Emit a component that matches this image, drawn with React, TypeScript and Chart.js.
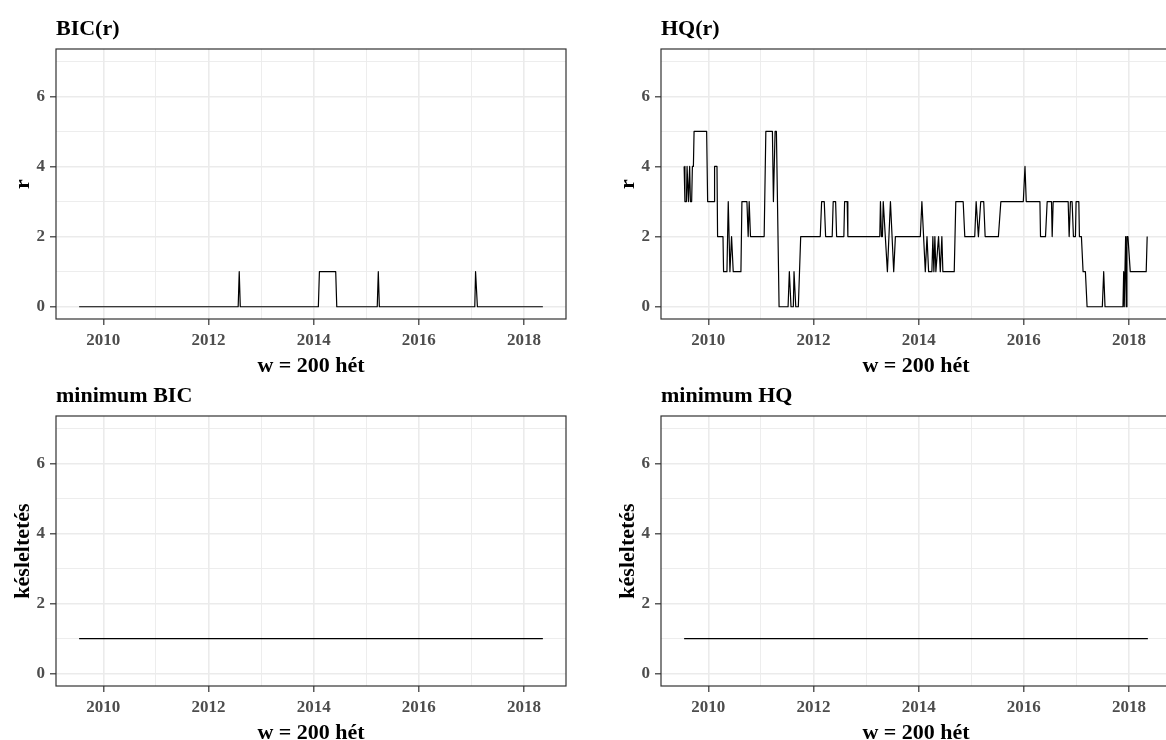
import React, { useEffect, useRef } from "react";
import { Chart, registerables } from "chart.js";

Chart.register(...registerables);

const FONT = '"Liberation Serif", "Times New Roman", serif';

// ---- axes ----
const X_MIN = 2009.1;
const X_MAX = 2018.8;
const Y_MIN = -0.35;
const Y_MAX = 7.35;
const xMajorTicks = [2010, 2012, 2014, 2016, 2018];
const xMinorTicks = [2011, 2013, 2015, 2017];
const yMajorTicks = [0, 2, 4, 6];
const yMinorTicks = [1, 3, 5, 7];
const xAxisTitle = "w = 200 hét";

// ---- BIC(r) ----
const bicDates = [
  2009.54, 2012.565, 2012.585, 2012.605, 2014.09, 2014.11, 2014.42, 2014.44,
  2015.21, 2015.23, 2015.25, 2017.065, 2017.08, 2017.115, 2018.36,
];
const bicR = [0, 0, 1, 0, 0, 1, 1, 0, 0, 1, 0, 0, 1, 0, 0];

// ---- HQ(r) ----
const hqDates = [
  2009.54, 2009.555, 2009.583, 2009.596, 2009.621, 2009.645, 2009.659, 2009.683, 2009.697, 2009.716,
  2009.729, 2009.968, 2009.987, 2010.114, 2010.119, 2010.165, 2010.176, 2010.279, 2010.29, 2010.354,
  2010.379, 2010.411, 2010.442, 2010.474, 2010.62, 2010.639, 2010.734, 2010.758, 2010.777, 2010.802,
  2011.062, 2011.094, 2011.219, 2011.238, 2011.27, 2011.295, 2011.346, 2011.517, 2011.541, 2011.573,
  2011.617, 2011.63, 2011.663, 2011.712, 2011.757, 2012.129, 2012.155, 2012.205, 2012.231, 2012.356,
  2012.375, 2012.421, 2012.44, 2012.578, 2012.592, 2012.641, 2012.654, 2013.261, 2013.274, 2013.293,
  2013.312, 2013.327, 2013.336, 2013.406, 2013.464, 2013.526, 2013.558, 2014.032, 2014.062, 2014.127,
  2014.159, 2014.19, 2014.252, 2014.271, 2014.29, 2014.309, 2014.328, 2014.379, 2014.412, 2014.442,
  2014.461, 2014.677, 2014.707, 2014.847, 2014.878, 2015.067, 2015.094, 2015.137, 2015.181, 2015.238,
  2015.265, 2015.517, 2015.564, 2015.991, 2016.023, 2016.047, 2016.307, 2016.318, 2016.413, 2016.445,
  2016.527, 2016.54, 2016.559, 2016.844, 2016.863, 2016.887, 2016.919, 2016.944, 2016.982, 2016.995,
  2017.047, 2017.058, 2017.096, 2017.128, 2017.172, 2017.204, 2017.494, 2017.52, 2017.545, 2017.886,
  2017.9, 2017.911, 2017.924, 2017.937, 2017.949, 2017.962, 2017.981, 2018.025, 2018.328, 2018.347,
];
const hqR = [
  4, 3, 3, 4, 3, 4, 3, 3, 4, 4,
  5, 5, 3, 3, 4, 4, 2, 2, 1, 1,
  3, 1, 2, 1, 1, 3, 3, 2, 3, 2,
  2, 5, 5, 3, 5, 5, 0, 0, 1, 0,
  0, 1, 0, 0, 2, 2, 3, 3, 2, 2,
  3, 3, 2, 2, 3, 3, 2, 2, 3, 2,
  2, 3, 3, 1, 3, 1, 2, 2, 3, 1,
  2, 1, 1, 2, 1, 2, 1, 2, 1, 2,
  1, 1, 3, 3, 2, 2, 3, 2, 3, 3,
  2, 2, 3, 3, 4, 3, 3, 2, 2, 3,
  3, 2, 3, 3, 2, 3, 3, 2, 2, 3,
  3, 2, 2, 1, 1, 0, 0, 1, 0, 0,
  1, 0, 0, 2, 0, 2, 2, 1, 1, 2,
];

// ---- minimum BIC / minimum HQ (lag) ----
const minDates = [2009.54, 2018.36];
const minBicLag = [1, 1];
const minHqLag = [1, 1];

type PanelProps = {
  left: number;
  top: number;
  width: number;
  height: number;
  title: string;
  yTitle: string;
  xs: number[];
  ys: number[];
};

const AREA_LEFT = 56;
const AREA_RIGHT = 566;
const AREA_TOP = 49;
const AREA_BOTTOM = 319;

function Panel({ left, top, width, height, title, yTitle, xs, ys }: PanelProps) {
  const ref = useRef<HTMLCanvasElement>(null);
  useEffect(() => {
    const canvas = ref.current;
    if (!canvas) return;
    const decor = {
      id: "decor",
      afterDatasetsDraw(chart: any) {
        const { ctx, chartArea: a } = chart;
        ctx.save();
        ctx.strokeStyle = "#333333";
        ctx.lineWidth = 1.2;
        ctx.strokeRect(a.left, a.top, a.right - a.left, a.bottom - a.top);
        ctx.fillStyle = "#000000";
        ctx.font = `bold 22px ${FONT}`;
        ctx.textBaseline = "alphabetic";
        ctx.textAlign = "left";
        ctx.fillText(title, a.left, 35);
        ctx.textAlign = "center";
        ctx.fillText(xAxisTitle, (a.left + a.right) / 2, 372);
        ctx.translate(29, (a.top + a.bottom) / 2);
        ctx.rotate(-Math.PI / 2);
        ctx.fillText(yTitle, 0, 0);
        ctx.restore();
      },
    };
    const gridColor = "#EBEBEB";
    const chart = new Chart(canvas, {
      type: "line",
      data: {
        datasets: [
          {
            data: xs.map((x, i) => ({ x, y: ys[i] })),
            borderColor: "#000000",
            borderWidth: 1.2,
            pointRadius: 0,
            tension: 0,
            fill: false,
            borderJoinStyle: "round",
          },
        ],
      },
      options: {
        responsive: false,
        animation: false,
        devicePixelRatio: 1,
        events: [],
        layout: { padding: { left: 0, top: AREA_TOP, right: width - AREA_RIGHT, bottom: 0 } },
        plugins: { legend: { display: false }, tooltip: { enabled: false }, title: { display: false } },
        scales: {
          x: {
            type: "linear",
            min: X_MIN,
            max: X_MAX,
            afterBuildTicks: (s: any) => {
              s.ticks = [...xMajorTicks, ...xMinorTicks].sort((a, b) => a - b).map((v) => ({ value: v }));
            },
            afterFit: (s: any) => {
              s.height = height - AREA_BOTTOM;
            },
            ticks: {
              autoSkip: false,
              maxRotation: 0,
              minRotation: 0,
              padding: 5,
              color: "#4D4D4D",
              font: { family: FONT, size: 17, weight: "bold" },
              callback: (v: any) => (xMajorTicks.includes(Number(v)) ? String(v) : ""),
            },
            grid: {
              color: gridColor,
              lineWidth: (c: any) => (xMajorTicks.includes(c.tick?.value) ? 1.6 : 0.9),
              tickLength: 6,
              tickWidth: 1.2,
              tickColor: (c: any) => (xMajorTicks.includes(c.tick?.value) ? "#333333" : "rgba(0,0,0,0)"),
            },
            border: { display: false },
          },
          y: {
            type: "linear",
            min: Y_MIN,
            max: Y_MAX,
            afterBuildTicks: (s: any) => {
              s.ticks = [...yMajorTicks, ...yMinorTicks].sort((a, b) => a - b).map((v) => ({ value: v }));
            },
            afterFit: (s: any) => {
              s.width = AREA_LEFT;
            },
            ticks: {
              autoSkip: false,
              padding: 5,
              color: "#4D4D4D",
              font: { family: FONT, size: 17, weight: "bold" },
              callback: (v: any) => (yMajorTicks.includes(Number(v)) ? String(v) : ""),
            },
            grid: {
              color: gridColor,
              lineWidth: (c: any) => (yMajorTicks.includes(c.tick?.value) ? 1.6 : 0.9),
              tickLength: 6,
              tickWidth: 1.2,
              tickColor: (c: any) => (yMajorTicks.includes(c.tick?.value) ? "#333333" : "rgba(0,0,0,0)"),
            },
            border: { display: false },
          },
        },
      } as any,
      plugins: [decor],
    });
    return () => chart.destroy();
  }, []);
  return (
    <canvas
      ref={ref}
      width={width}
      height={height}
      style={{ position: "absolute", left, top, width, height, display: "block" }}
    />
  );
}

export default function App() {
  return (
    <div
      style={{
        position: "absolute",
        left: 0,
        top: 0,
        width: 1166,
        height: 740,
        overflow: "hidden",
        background: "#ffffff",
      }}
    >
      <Panel left={0} top={0} width={605} height={380} title="BIC(r)" yTitle="r" xs={bicDates} ys={bicR} />
      <Panel left={605} top={0} width={605} height={380} title="HQ(r)" yTitle="r" xs={hqDates} ys={hqR} />
      <Panel left={0} top={367} width={605} height={373} title="minimum BIC" yTitle="késleltetés" xs={minDates} ys={minBicLag} />
      <Panel left={605} top={367} width={605} height={373} title="minimum HQ" yTitle="késleltetés" xs={minDates} ys={minHqLag} />
    </div>
  );
}
